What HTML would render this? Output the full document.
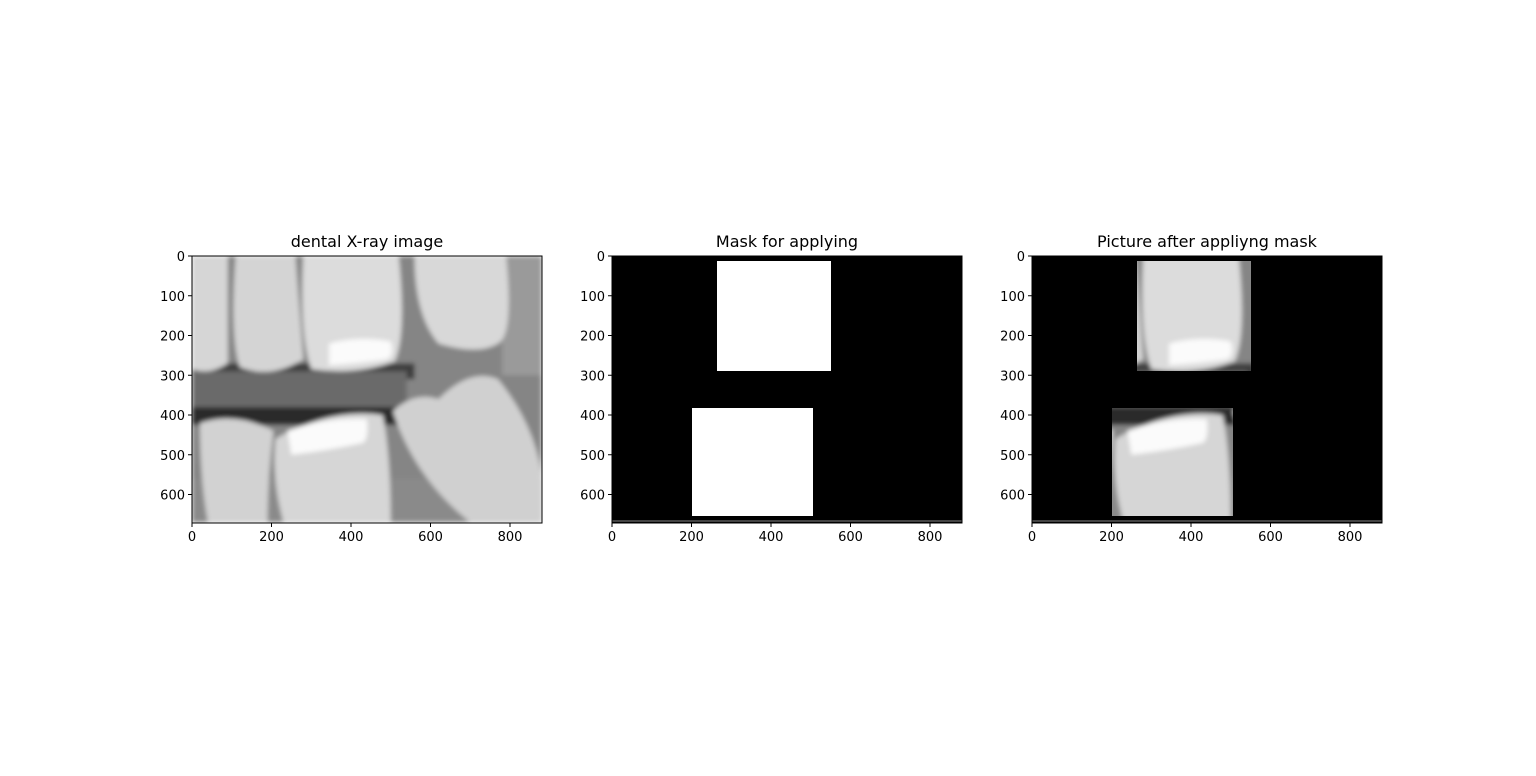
<!DOCTYPE html>
<html><head><meta charset="utf-8"><style>
body{margin:0;background:#fff;width:1536px;height:771px;overflow:hidden;font-family:"Liberation Sans","DejaVu Sans",sans-serif}
</style></head><body>
<svg id="fig" width="1536" height="771" xmlns="http://www.w3.org/2000/svg" font-family="DejaVu Sans, Liberation Sans, sans-serif">
<defs>
<filter id="blur" x="-5%" y="-5%" width="110%" height="110%"><feGaussianBlur stdDeviation="6"/></filter>
<g id="xray">
<rect x="0" y="0" width="880" height="670" fill="#858585"/>
<rect x="780" y="0" width="100" height="300" fill="#9a9a9a"/>
<rect x="0" y="270" width="560" height="40" fill="#3c3c3c"/>
<rect x="0" y="290" width="540" height="95" fill="#6a6a6a"/>
<rect x="0" y="380" width="540" height="45" fill="#2c2c2c"/>
<rect x="0" y="560" width="880" height="110" fill="#8a8a8a"/>
<path d="M0 0 H90 V270 Q45 300 0 285 Z" fill="#d6d6d6"/>
<path d="M110 0 H260 L280 260 Q200 310 120 280 Q95 200 110 0 Z" fill="#d4d4d4"/>
<path d="M280 0 H520 Q540 200 510 265 Q420 300 300 285 Q270 200 280 0 Z" fill="#dcdcdc"/>
<path d="M345 220 Q420 200 500 215 Q510 250 490 260 Q420 270 345 275 Z" fill="#fbfbfb"/>
<path d="M560 0 H790 Q810 200 770 220 Q720 250 620 220 Q560 150 560 0 Z" fill="#d8d8d8"/>
<path d="M20 420 Q110 390 205 440 Q190 560 190 670 H40 Q20 560 20 420 Z" fill="#d2d2d2"/>
<path d="M210 460 Q350 380 480 400 Q500 500 500 670 H230 Q200 560 210 460 Z" fill="#d6d6d6"/>
<path d="M240 440 Q340 405 440 410 Q445 460 430 470 Q340 490 250 500 Z" fill="#fbfbfb"/>
<path d="M505 390 Q560 340 620 360 Q700 280 770 310 Q860 420 880 550 V670 H700 Q560 560 505 390 Z" fill="#d0d0d0"/>
</g>
<clipPath id="c1"><rect x="192" y="256" width="350" height="267"/></clipPath>
<clipPath id="c3"><rect x="1137" y="261" width="114" height="110"/><rect x="1112" y="408" width="121" height="108"/></clipPath>
</defs>

<g>
<text x="367" y="247" text-anchor="middle" font-size="16">dental X-ray image</text>
<g clip-path="url(#c1)"><g filter="url(#blur)" transform="translate(192,256) scale(0.3975)"><use href="#xray"/></g></g>
</g>

<g>
<text x="787" y="247" text-anchor="middle" font-size="16">Mask for applying</text>
<rect x="612" y="256" width="350" height="267" fill="#000"/>
<line x1="612" y1="521" x2="962" y2="521" stroke="#888" stroke-width="1"/>
<rect x="717" y="261" width="114" height="110" fill="#fff"/>
<rect x="692" y="408" width="121" height="108" fill="#fff"/>
</g>

<g>
<text x="1207" y="247" text-anchor="middle" font-size="16">Picture after appliyng mask</text>
<rect x="1032" y="256" width="350" height="267" fill="#000"/>
<line x1="1032" y1="521" x2="1382" y2="521" stroke="#888" stroke-width="1"/>
<g clip-path="url(#c3)"><g filter="url(#blur)" transform="translate(1032,256) scale(0.3975)"><use href="#xray"/></g></g>
</g>
<g id="axes"></g>
</svg>
<script>
const panelLefts=[192,612,1032];
const xTicks=[0,200,400,600,800];
const yTicks=[0,100,200,300,400,500,600];
const top0=256, scale=0.3975, W=350, H=267;
const ns="http://www.w3.org/2000/svg";
const g=document.getElementById('axes');
function mk(t,a){const e=document.createElementNS(ns,t);for(const k in a)e.setAttribute(k,a[k]);g.appendChild(e);return e;}
panelLefts.forEach((L,pi)=>{
  const f=mk('rect',{x:L,y:top0,width:W,height:H,fill:'none',stroke:'#000','stroke-width':1});
  
  
  xTicks.forEach(v=>{
    const x=L+v*scale;
    mk('line',{x1:x,y1:top0+H,x2:x,y2:top0+H+4,stroke:'#000'});
    const t=mk('text',{x:x,y:top0+H+18,'text-anchor':'middle','font-size':13});
    t.textContent=v;
    
    
  });
  yTicks.forEach(v=>{
    const y=top0+v*scale;
    mk('line',{x1:L-4,y1:y,x2:L,y2:y,stroke:'#000'});
    const t=mk('text',{x:L-7,y:y+5,'text-anchor':'end','font-size':13});
    t.textContent=v;
    
    
  });
});
</script>
</body></html>
